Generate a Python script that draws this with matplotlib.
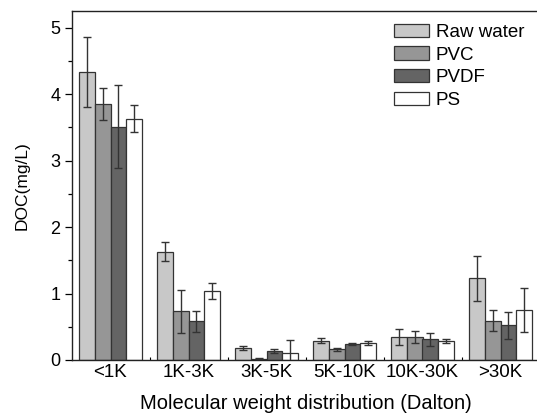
import numpy as np
import matplotlib.pyplot as plt

plt.rcParams['font.family'] = ['Liberation Sans', 'DejaVu Sans']

categories = ['<1K', '1K-3K', '3K-5K', '5K-10K', '10K-30K', '>30K']
series = ['Raw water', 'PVC', 'PVDF', 'PS']

raw_water = [4.33, 1.63, 0.18, 0.29, 0.35, 1.23]
raw_water_err = [0.53, 0.14, 0.03, 0.04, 0.12, 0.34]
pvc = [3.85, 0.73, 0.02, 0.16, 0.35, 0.59]
pvc_err = [0.24, 0.32, 0.01, 0.02, 0.09, 0.16]
pvdf = [3.51, 0.58, 0.13, 0.24, 0.31, 0.52]
pvdf_err = [0.62, 0.16, 0.03, 0.01, 0.10, 0.20]
ps = [3.63, 1.04, 0.10, 0.26, 0.28, 0.75]
ps_err = [0.20, 0.12, 0.20, 0.03, 0.03, 0.33]

values = [raw_water, pvc, pvdf, ps]
errors = [raw_water_err, pvc_err, pvdf_err, ps_err]
colors = ['#c8c8c8', '#969696', '#646464', '#ffffff']

fig = plt.figure(figsize=(5.37, 4.16), dpi=100)
ax = fig.add_axes([71.5/537, 56/416, 468/537, 349/416])

x = np.arange(len(categories))
w = 0.2
for i, (vals, errs) in enumerate(zip(values, errors)):
    ax.bar(x + (i - 1.5)*w, vals, w, color=colors[i], edgecolor='#333333',
           linewidth=0.9, label=series[i], zorder=2)
    ax.errorbar(x + (i - 1.5)*w, vals, yerr=errs, fmt='none', ecolor='#333333',
                elinewidth=1.0, capsize=3, capthick=1.0, zorder=3)

ax.set_xlim(-0.5, 5.5)
ax.set_ylim(0, 5.25)
ax.set_xticks(x)
ax.set_xticklabels(categories, fontsize=13.5)
ax.set_xticks(np.arange(0.5, 5.5, 1), minor=True)
ax.tick_params(axis='x', which='major', length=0, pad=3)
ax.tick_params(axis='x', which='minor', length=2, direction='in', width=0.8)
ax.set_yticks(np.arange(0, 6, 1))
ax.set_yticks(np.arange(0.5, 5.5, 1), minor=True)
ax.tick_params(axis='y', which='major', length=5, labelsize=13, width=0.9, pad=3)
ax.tick_params(axis='y', which='minor', length=3, width=0.9)
ax.spines['right'].set_visible(False)
for s in ['left', 'bottom', 'top']:
    ax.spines[s].set_linewidth(1.0)
    ax.spines[s].set_color('#222222')

ax.set_xlabel('Molecular weight distribution (Dalton)', fontsize=14.5, labelpad=9)
ax.set_ylabel('DOC(mg/L)', fontsize=12.5, labelpad=15)

leg = ax.legend(loc='upper left', bbox_to_anchor=(0.673, 0.985), frameon=False,
                fontsize=13.5, handlelength=1.87, handleheight=0.7,
                handletextpad=0.35, labelspacing=0.3, borderaxespad=0)

fig.savefig('out.png', dpi=100)
